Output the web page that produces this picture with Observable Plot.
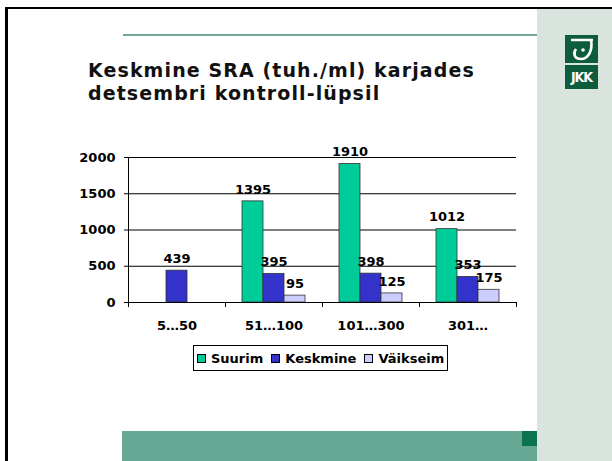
<!DOCTYPE html>
<html><head><meta charset="utf-8">
<script src="https://cdn.jsdelivr.net/npm/d3@7"></script>
<script src="https://cdn.jsdelivr.net/npm/@observablehq/plot@0.6"></script>
<style>
body{margin:0;background:#fff;}
#slide{position:relative;width:612px;height:461px;overflow:hidden;background:#fff;font-family:"DejaVu Sans",Verdana,sans-serif;}
.abs{position:absolute;}
#panel{left:537px;top:9px;width:75px;height:452px;background:#d9e4df;}
#frameTop{left:5px;top:7px;width:607px;height:2px;background:#000;}
#frameLeft{left:5px;top:7px;width:2.5px;height:454px;background:#000;}
#topLine{left:123px;top:33.5px;width:414px;height:2px;background:#6fa898;}
#band{left:122px;top:431px;width:415px;height:30px;background:#66a894;}
#sq{left:522px;top:431px;width:15px;height:15px;background:#0b7350;}
#logoA{left:565px;top:35px;width:33px;height:28px;background:#0d5c3c;}
#logoB{left:565px;top:65px;width:33px;height:24px;background:#0d5c3c;color:#fff;font:bold 14px "DejaVu Sans Condensed","DejaVu Sans",sans-serif;letter-spacing:-1px;text-align:center;line-height:24px;}
#title{left:88px;top:59px;font-size:19px;font-weight:bold;line-height:23px;letter-spacing:1.1px;color:#111;white-space:nowrap;}
#chart{left:0;top:140px;}
#legend{left:193px;top:345px;width:253px;height:24px;border:1px solid #000;background:#fff;display:flex;align-items:center;font-size:13px;font-weight:bold;color:#000;white-space:nowrap;box-sizing:content-box;}
.sw{display:inline-block;width:7px;height:7px;border:1px solid #000;margin-right:5px;}
.it{display:flex;align-items:center;}
</style></head>
<body><div id="slide">
<div class="abs" id="panel"></div>
<div class="abs" id="frameTop"></div>
<div class="abs" id="frameLeft"></div>
<div class="abs" id="topLine"></div>
<div class="abs" id="band"></div>
<div class="abs" id="sq"></div>
<div class="abs" id="logoA"><svg width="33" height="28" viewBox="0 0 33 28"><path d="M6 5 H28 M26 5 C28 16 23 24 16 24 C9 24 8 18 11 14" fill="none" stroke="#fff" stroke-width="2.6"/><circle cx="18" cy="15" r="1.8" fill="#fff"/></svg></div>
<div class="abs" id="logoB">JKK</div>
<div class="abs" id="title">Keskmine SRA (tuh./ml) karjades<br>detsembri kontroll-lüpsil</div>
<div class="abs" id="chart"></div>
<div class="abs" id="legend"></div>
</div>
<script>
const categories = ["5…50", "51…100", "101…300", "301…"];
const seriesNames = ["Suurim", "Keskmine", "Väikseim"];
const suurim = [null, 1395, 1910, 1012];
const keskmine = [439, 395, 398, 353];
const vaikseim = [null, 95, 125, 175];
const yTicks = [0, 500, 1000, 1500, 2000];
const colors = ["#00cc99", "#3333cc", "#ccccff"];

const seriesValues = [suurim, keskmine, vaikseim];
const data = [];
categories.forEach((c, i) => {
  seriesValues.forEach((arr, j) => {
    if (arr[i] != null) data.push({cat: c, series: seriesNames[j], value: arr[i]});
  });
});

const chart = Plot.plot({
  width: 612, height: 192,
  marginLeft: 126, marginRight: 95, marginTop: 17, marginBottom: 30,
  style: {fontFamily: "DejaVu Sans", fontSize: "13px", fontWeight: "bold", color: "#000", background: "transparent", overflow: "visible"},
  fx: {domain: categories, padding: 0, label: null},
  x: {domain: seriesNames, paddingInner: 0, paddingOuter: 0.78, axis: null},
  y: {domain: [0, 2000], label: null},
  color: {domain: seriesNames, range: colors},
  marks: [
    Plot.gridY(yTicks, {stroke: "#000", strokeOpacity: 1, strokeWidth: 1}),
    Plot.axisY(yTicks, {tickSize: 4, tickPadding: 9, label: null, tickFormat: d => String(d)}),
    Plot.frame({anchor: "left", facetAnchor: "left", stroke: "#000"}),
    Plot.frame({anchor: "left", insetTop: 145, insetBottom: -4, stroke: "#000"}),
    Plot.frame({anchor: "right", insetTop: 145, insetBottom: -4, stroke: "#000"}),
    Plot.barY(data, {fx: "cat", x: "series", y: "value", fill: "series", stroke: "#333", strokeWidth: 0.8}),
    Plot.ruleY([0], {stroke: "#000"}),
    Plot.text(data, {fx: "cat", x: "series", y: "value", text: d => String(d.value), dy: -12, fill: "#000"}),
    Plot.axisFx({anchor: "bottom", tickSize: 0, tickPadding: 18, label: null})
  ]
});
document.getElementById("chart").appendChild(chart);

const legend = document.getElementById("legend");
seriesNames.forEach((s, i) => {
  const it = document.createElement("span");
  it.className = "it";
  it.style.marginLeft = i === 0 ? "3px" : "8px";
  const sw = document.createElement("span");
  sw.className = "sw";
  sw.style.background = colors[i];
  it.appendChild(sw);
  it.appendChild(document.createTextNode(s));
  legend.appendChild(it);
});
</script>
</body></html>
